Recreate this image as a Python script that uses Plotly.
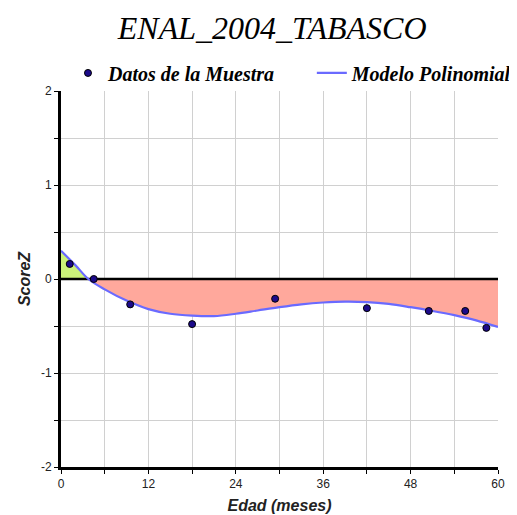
import plotly.graph_objects as go

# Sample data points (age in months, Z-score)
data_x = [1.2, 4.5, 9.5, 18.0, 29.4, 42.0, 50.5, 55.5, 58.4]
data_y = [0.16, 0.0, -0.27, -0.48, -0.21, -0.31, -0.34, -0.34, -0.52]

# Polynomial model
curve_x = [0, 2, 3.75, 6, 9, 12, 15, 18, 21, 24, 27, 30, 33, 36, 39, 42, 45, 48, 51, 54, 57, 60]
curve_y = [0.30, 0.145, 0.0, -0.11, -0.23, -0.32, -0.37, -0.39, -0.395, -0.37, -0.335, -0.30,
           -0.27, -0.25, -0.24, -0.245, -0.265, -0.30, -0.34, -0.385, -0.44, -0.51]

x_range = [0, 60]
y_range = [-2, 2]
x_ticks = [0, 12, 24, 36, 48, 60]
x_tick_labels = ["0", "12", "24", "36", "48", "60"]
y_ticks = [-2, -1, 0, 1, 2]
y_tick_labels = ["-2", "-1", "0", "1", "2"]

cross = curve_y.index(0.0)
pos_x, pos_y = curve_x[:cross + 1], curve_y[:cross + 1]
neg_x, neg_y = curve_x[cross:], curve_y[cross:]

fig = go.Figure()
fig.add_trace(go.Scatter(x=pos_x, y=pos_y, mode="lines", fill="tozeroy",
                         fillcolor="#ccf27a", line=dict(width=0, shape="spline"),
                         showlegend=False, hoverinfo="skip"))
fig.add_trace(go.Scatter(x=neg_x, y=neg_y, mode="lines", fill="tozeroy",
                         fillcolor="#ffa89c", line=dict(width=0, shape="spline"),
                         showlegend=False, hoverinfo="skip"))
fig.add_trace(go.Scatter(x=x_range, y=[0, 0], mode="lines",
                         line=dict(color="black", width=2.5),
                         showlegend=False, hoverinfo="skip"))
fig.add_trace(go.Scatter(x=curve_x, y=curve_y, mode="lines", name="Modelo Polinomial",
                         legend="legend2",
                         line=dict(color="#6a6aff", width=2.2, shape="spline")))
fig.add_trace(go.Scatter(x=data_x, y=data_y, mode="markers", name="Datos de la Muestra",
                         legend="legend",
                         marker=dict(color="#1c0a8a", size=7, line=dict(color="black", width=1))))

legend_font = dict(family="Liberation Serif", size=20, color="black",
                   style="italic", weight="bold")

fig.update_layout(
    width=509, height=507,
    margin=dict(l=53, r=19, t=83, b=48, autoexpand=False),
    paper_bgcolor="white", plot_bgcolor="white",
    title=dict(text="ENAL_2004_TABASCO", x=0.519, xanchor="center", y=0.96, yanchor="middle",
               font=dict(family="Liberation Serif", size=32, color="black", style="italic")),
    legend=dict(orientation="h", x=0.016, xanchor="left", y=1.048, yanchor="middle",
                font=legend_font, itemwidth=30, bgcolor="rgba(0,0,0,0)"),
    legend2=dict(orientation="h", x=0.574, xanchor="left", y=1.048, yanchor="middle",
                 font=legend_font, itemwidth=30, bgcolor="rgba(0,0,0,0)"),
    showlegend=True,
    xaxis=dict(range=x_range, tickvals=x_ticks, ticktext=x_tick_labels,
               showgrid=True, gridcolor="#d0d0d0", gridwidth=1,
               zeroline=False, showline=True, linecolor="black", linewidth=3,
               ticks="outside", ticklen=4, tickcolor="black", tickwidth=1, automargin=False,
               minor=dict(dtick=6, showgrid=True, gridcolor="#d0d0d0", ticks="outside",
                          ticklen=4, tickcolor="black"),
               tickfont=dict(family="Liberation Sans", size=12, color="#222"),
               title=dict(text="Edad (meses)", standoff=10,
                          font=dict(family="Liberation Sans", size=16, color="#222",
                                    style="italic", weight="bold")),
               fixedrange=True),
    yaxis=dict(range=y_range, tickvals=y_ticks, ticktext=y_tick_labels,
               showgrid=True, gridcolor="#d0d0d0", gridwidth=1,
               zeroline=False, showline=True, linecolor="black", linewidth=3,
               ticks="outside", ticklen=4, tickcolor="black", tickwidth=1, automargin=False,
               minor=dict(dtick=0.5, showgrid=True, gridcolor="#d0d0d0", ticks="outside",
                          ticklen=4, tickcolor="black"),
               tickfont=dict(family="Liberation Sans", size=12, color="#222"),
               title=dict(text="ScoreZ", standoff=7,
                          font=dict(family="Liberation Sans", size=16, color="#222",
                                    style="italic", weight="bold")),
               fixedrange=True),
)

fig.write_html("out.html")
